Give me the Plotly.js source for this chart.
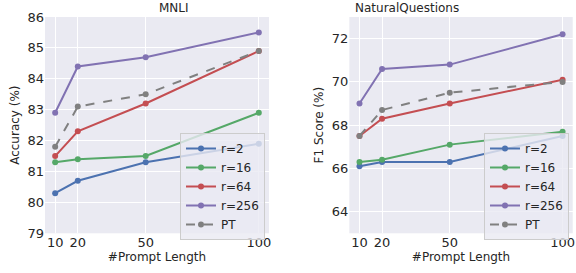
<!DOCTYPE html>
<html><head><meta charset="utf-8">
<script src="https://cdn.plot.ly/plotly-3.0.1.min.js"></script>
<style>html,body{margin:0;padding:0;background:#fff}#c{width:576px;height:273px}</style>
</head><body><div id="c"></div>
<script>
const promptLength = [10, 20, 50, 100];
const seriesNames = ["r=2", "r=16", "r=64", "r=256", "PT"];
const mnli_r2 = [80.3, 80.7, 81.3, 81.9];
const mnli_r16 = [81.3, 81.4, 81.5, 82.9];
const mnli_r64 = [81.5, 82.3, 83.2, 84.9];
const mnli_r256 = [82.9, 84.4, 84.7, 85.5];
const mnli_pt = [81.8, 83.1, 83.5, 84.9];
const nq_r2 = [66.1, 66.3, 66.3, 67.5];
const nq_r16 = [66.3, 66.4, 67.1, 67.7];
const nq_r64 = [67.5, 68.3, 69.0, 70.1];
const nq_r256 = [69.0, 70.6, 70.8, 72.2];
const nq_pt = [67.5, 68.7, 69.5, 70.0];

const colors = ["#4C72B0", "#55A868", "#C44E52", "#8172B2", "#808080"];
const dashes = ["solid", "solid", "solid", "solid", "dash"];
const mnli = [mnli_r2, mnli_r16, mnli_r64, mnli_r256, mnli_pt];
const nq = [nq_r2, nq_r16, nq_r64, nq_r256, nq_pt];

const traces = [];
mnli.forEach((ys, i) => traces.push({
  x: promptLength, y: ys, name: seriesNames[i], type: "scatter", mode: "lines+markers",
  line: {color: colors[i], width: 2, dash: dashes[i]}, marker: {color: colors[i], size: 6},
  xaxis: "x", yaxis: "y", legend: "legend"
}));
nq.forEach((ys, i) => traces.push({
  x: promptLength, y: ys, name: seriesNames[i], type: "scatter", mode: "lines+markers",
  line: {color: colors[i], width: 2, dash: dashes[i]}, marker: {color: colors[i], size: 6},
  xaxis: "x2", yaxis: "y2", legend: "legend2"
}));

const tf = {family: "DejaVu Sans", size: 12, color: "#262626"};
const axBase = {
  showgrid: true, gridcolor: "#ffffff", gridwidth: 1, zeroline: false, showline: false,
  ticks: "", tickfont: {family: "DejaVu Sans", size: 13, color: "#262626"}
};
const legBase = {
  bgcolor: "rgba(234,234,242,0.8)", bordercolor: "#cccccc", borderwidth: 1,
  font: {family: "DejaVu Sans", size: 12, color: "#262626"},
  xanchor: "left", yanchor: "top", tracegroupgap: 0, itemwidth: 30
};
const layout = {
  width: 576, height: 273, margin: {l: 0, r: 0, t: 0, b: 0},
  paper_bgcolor: "#ffffff", plot_bgcolor: "#EAEAF2", font: {family: "DejaVu Sans", color: "#262626"},
  xaxis: Object.assign({}, axBase, {domain: [0.0781, 0.467], range: [5.5, 104.5],
    tickvals: promptLength, ticktext: promptLength.map(String),
    title: {text: "#Prompt Length", font: tf, standoff: 3}}),
  yaxis: Object.assign({}, axBase, {domain: [0.1454, 0.9377], range: [79, 86], dtick: 1,
    title: {text: "Accuracy (%)", font: tf, standoff: 5}}),
  xaxis2: Object.assign({}, axBase, {domain: [0.6065, 0.9943], range: [5.5, 104.5], anchor: "y2",
    tickvals: promptLength, ticktext: promptLength.map(String),
    title: {text: "#Prompt Length", font: tf, standoff: 3}}),
  yaxis2: Object.assign({}, axBase, {domain: [0.1454, 0.9377], range: [63, 73], tickvals: [64, 66, 68, 70, 72], anchor: "x2",
    title: {text: "F1 Score (%)", font: tf, standoff: 5}}),
  legend: Object.assign({}, legBase, {x: 180/576, y: 1 - 133/273}),
  legend2: Object.assign({}, legBase, {x: 484/576, y: 1 - 133/273}),
  annotations: [
    {text: "MNLI", x: (0.0781 + 0.467) / 2, y: 1 - 8/273, xref: "paper", yref: "paper", showarrow: false,
     font: tf, yanchor: "middle"},
    {text: "NaturalQuestions", x: (0.6065 + 0.9943) / 2, y: 1 - 8/273, xref: "paper", yref: "paper", showarrow: false,
     font: tf, yanchor: "middle"}
  ]
};
Plotly.newPlot("c", traces, layout, {staticPlot: true, displayModeBar: false});
</script></body></html>
